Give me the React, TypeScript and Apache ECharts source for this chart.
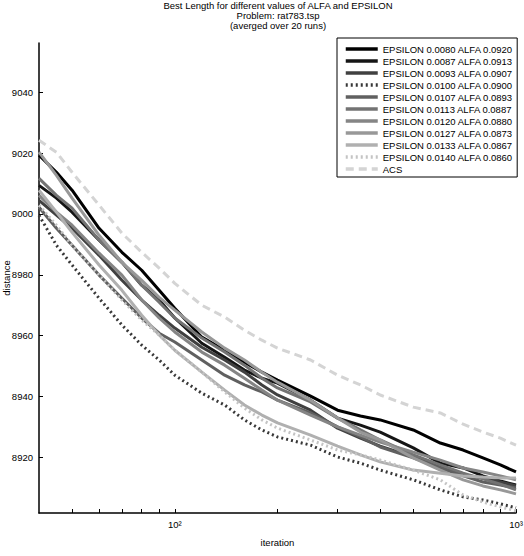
import React, { useEffect, useRef } from 'react';
import * as echarts from 'echarts';

const iterations = [40, 45, 50, 60, 70, 80, 90, 100, 120, 140, 160, 180, 200, 250, 300, 350, 400, 500, 600, 700, 800, 900, 1000];

const eps0080 = [9019.3, 9013.7, 9007.8, 8995.3, 8987.4, 8981.5, 8974.9, 8969.0, 8959.5, 8955.2, 8951.3, 8948.0, 8945.4, 8940.1, 8935.5, 8933.6, 8932.3, 8929.0, 8924.7, 8922.4, 8919.8, 8917.5, 8915.2];
const eps0087 = [9009.4, 9005.2, 9000.6, 8991.4, 8984.1, 8976.6, 8971.7, 8965.8, 8957.5, 8952.9, 8948.7, 8946.0, 8944.4, 8938.8, 8932.9, 8930.6, 8928.3, 8923.1, 8918.1, 8916.5, 8913.9, 8912.2, 8910.9];
const eps0093 = [9004.5, 8999.6, 8995.3, 8986.4, 8978.2, 8971.7, 8966.7, 8962.5, 8956.2, 8952.0, 8948.0, 8943.8, 8940.5, 8935.5, 8929.6, 8926.3, 8923.7, 8920.1, 8916.8, 8914.2, 8913.2, 8911.9, 8910.6];
const eps0100 = [8999.6, 8989.7, 8983.2, 8972.3, 8963.5, 8956.9, 8952.0, 8947.0, 8941.1, 8937.2, 8932.3, 8929.0, 8926.7, 8924.0, 8920.1, 8918.1, 8915.8, 8912.6, 8909.3, 8907.0, 8906.0, 8904.7, 8903.4];
const eps0107 = [9002.2, 8995.3, 8989.7, 8979.9, 8972.3, 8965.8, 8960.8, 8957.9, 8952.0, 8947.0, 8943.8, 8941.5, 8938.8, 8934.6, 8930.0, 8926.7, 8923.4, 8919.8, 8916.5, 8913.9, 8911.9, 8910.9, 8909.9];
const eps0113 = [9011.7, 9006.1, 9001.9, 8991.4, 8984.1, 8976.6, 8971.0, 8965.8, 8959.2, 8954.6, 8950.3, 8946.0, 8942.8, 8938.2, 8932.9, 8929.0, 8925.7, 8920.8, 8917.5, 8914.8, 8912.9, 8911.2, 8909.3];
const eps0120 = [9006.1, 9000.6, 8996.3, 8987.1, 8979.9, 8971.7, 8965.8, 8961.2, 8954.6, 8950.3, 8946.0, 8942.1, 8938.8, 8933.9, 8930.0, 8927.3, 8925.0, 8921.7, 8919.1, 8916.5, 8915.2, 8913.9, 8912.6];
const eps0127 = [9020.3, 9012.7, 9005.2, 8993.0, 8984.1, 8978.2, 8972.6, 8968.4, 8961.2, 8955.9, 8952.0, 8948.0, 8944.7, 8938.8, 8932.9, 8928.3, 8925.7, 8919.8, 8915.8, 8912.6, 8910.6, 8909.3, 8908.0];
const eps0133 = [9007.8, 9000.6, 8994.0, 8983.2, 8974.9, 8966.7, 8960.2, 8955.2, 8948.0, 8942.1, 8937.2, 8933.9, 8931.3, 8927.3, 8923.7, 8920.8, 8918.5, 8915.8, 8914.8, 8913.9, 8913.5, 8913.2, 8913.2];
const eps0140 = [9002.9, 8996.3, 8989.7, 8979.9, 8971.7, 8965.1, 8960.2, 8955.2, 8948.0, 8941.5, 8936.2, 8932.3, 8929.6, 8925.7, 8922.4, 8920.8, 8919.1, 8915.8, 8912.6, 8907.6, 8905.3, 8903.7, 8902.4];
const acs = [9024.2, 9020.3, 9013.7, 9002.9, 8993.7, 8987.4, 8982.2, 8977.2, 8970.0, 8966.1, 8961.8, 8958.5, 8955.9, 8952.0, 8947.0, 8943.8, 8940.5, 8936.5, 8934.6, 8930.9, 8928.3, 8926.3, 8924.0];

const seriesNames = [
  'EPSILON 0.0080 ALFA 0.0920',
  'EPSILON 0.0087 ALFA 0.0913',
  'EPSILON 0.0093 ALFA 0.0907',
  'EPSILON 0.0100 ALFA 0.0900',
  'EPSILON 0.0107 ALFA 0.0893',
  'EPSILON 0.0113 ALFA 0.0887',
  'EPSILON 0.0120 ALFA 0.0880',
  'EPSILON 0.0127 ALFA 0.0873',
  'EPSILON 0.0133 ALFA 0.0867',
  'EPSILON 0.0140 ALFA 0.0860',
  'ACS',
];
const seriesValues = [eps0080, eps0087, eps0093, eps0100, eps0107, eps0113, eps0120, eps0127, eps0133, eps0140, acs];

const yTicks = [8920, 8940, 8960, 8980, 9000, 9020, 9040];
const xTicks = [50, 60, 70, 80, 90, 100, 200, 300, 400, 500, 600, 700, 800, 900, 1000];
const xLabelValues = [100, 1000];
const xLabelTexts = ['10\u00b2', '10\u00b3'];

const titleLines = ['Best Length for different values of ALFA and EPSILON', 'Problem: rat783.tsp', '(averged over 20 runs)'];

const styles = [
  { color: '#000000', type: 'solid', width: 3 },
  { color: '#151515', type: 'solid', width: 3 },
  { color: '#404040', type: 'solid', width: 3 },
  { color: '#383838', type: [2, 3], width: 3 },
  { color: '#606060', type: 'solid', width: 3 },
  { color: '#737373', type: 'solid', width: 3 },
  { color: '#858585', type: 'solid', width: 3 },
  { color: '#989898', type: 'solid', width: 3 },
  { color: '#b0b0b0', type: 'solid', width: 3 },
  { color: '#c4c4c4', type: [2, 3], width: 3 },
  { color: '#d4d4d4', type: [8, 5], width: 3 },
];

const FONT = 'Liberation Sans, Arial, sans-serif';

export default function App() {
  const ref = useRef<HTMLDivElement>(null);
  useEffect(() => {
    if (!ref.current) return;
    const chart = echarts.init(ref.current, undefined, { renderer: 'svg' });
    const series = seriesNames.map((name, i) => ({
      name,
      type: 'line',
      data: iterations.map((it, j) => [it, seriesValues[i][j]]),
      showSymbol: false,
      symbol: 'none',
      lineStyle: { color: styles[i].color, width: styles[i].width, type: styles[i].type as any, cap: 'butt' },
      itemStyle: { color: styles[i].color },
      emphasis: { disabled: true },
      z: 2 + i,
    }));
    chart.setOption({
      animation: false,
      backgroundColor: '#ffffff',
      title: {
        text: titleLines.join('\n'),
        left: 278,
        top: 0,
        textAlign: 'center',
        padding: 0,
        textStyle: { fontFamily: FONT, fontSize: 9.5, fontWeight: 'normal', color: '#000', lineHeight: 10 },
      },
      legend: {
        orient: 'vertical',
        left: 337,
        top: 38,
        padding: [6, 4, 3, 7],
        itemWidth: 32,
        itemHeight: 10,
        itemGap: 2,
        borderColor: '#000',
        borderWidth: 1,
        borderRadius: 0,
        backgroundColor: '#fff',
        selectedMode: false,
        itemStyle: { opacity: 0, borderWidth: 0 },
        lineStyle: { width: 3.5 },
        textStyle: { fontFamily: FONT, fontSize: 9.5, color: '#000', padding: [0, 0, 0, 0] },
        data: seriesNames,
      },
      grid: { left: 39, right: 8, top: 43, bottom: 43, containLabel: false, outerBoundsMode: 'none' } as any,
      xAxis: {
        type: 'log',
        logBase: 10,
        min: 40,
        max: 1000,
        name: 'iteration',
        nameLocation: 'middle',
        nameGap: 24,
        nameMoveOverlap: false,
        nameTextStyle: { fontFamily: FONT, fontSize: 9.5, color: '#000' },
        axisLine: { show: true, lineStyle: { color: '#000', width: 1.5 } },
        axisTick: { show: true, inside: true, length: 4, lineStyle: { color: '#000', width: 1 }, customValues: xTicks },
        axisLabel: {
          show: true,
          margin: 6,
          fontFamily: FONT,
          fontSize: 9.5,
          color: '#000',
          customValues: xLabelValues,
          formatter: (v: number) => {
            const k = xLabelValues.findIndex((x) => Math.abs(x - v) < 1e-6 * x);
            return k >= 0 ? xLabelTexts[k] : '';
          },
        },
        splitLine: { show: false },
        minorTick: { show: false },
      } as any,
      yAxis: {
        type: 'value',
        min: 8901.7,
        max: 9056.2,
        splitNumber: 8,
        name: 'distance',
        nameLocation: 'middle',
        nameGap: 28,
        nameMoveOverlap: false,
        nameRotate: 90,
        nameTextStyle: { fontFamily: FONT, fontSize: 9.5, color: '#000' },
        axisLine: { show: true, lineStyle: { color: '#000', width: 1.5 } },
        axisTick: { show: true, inside: true, length: 4, lineStyle: { color: '#000', width: 1 }, customValues: yTicks },
        axisLabel: {
          show: true,
          margin: 6,
          fontFamily: FONT,
          fontSize: 9.5,
          color: '#000',
          customValues: yTicks,
          formatter: (v: number) => String(Math.round(v)),
        },
        splitLine: { show: false },
      } as any,
      series,
    });
    return () => chart.dispose();
  }, []);
  return <div ref={ref} style={{ position: 'fixed', left: 0, top: 0, width: 524, height: 556, background: '#fff' }} />;
}
